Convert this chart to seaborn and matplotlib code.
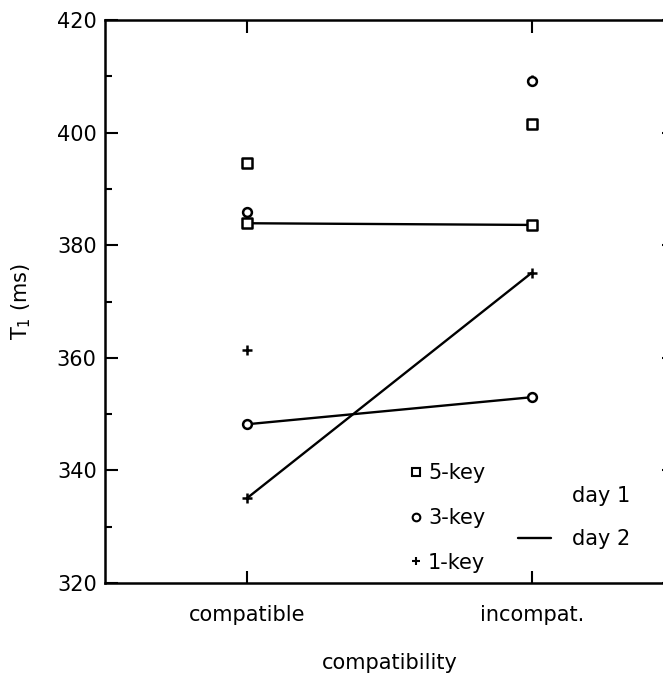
import matplotlib
matplotlib.use("Agg")
import matplotlib.pyplot as plt
from matplotlib.lines import Line2D
from matplotlib.ticker import MultipleLocator
import pandas as pd
import seaborn as sns

# values (ms)
conditions = ["compatible", "incompat."]
day1_5key = [394.6, 401.5]
day1_3key = [385.9, 409.2]
day1_1key = [361.4, 409.4]
day2_5key = [383.9, 383.6]
day2_3key = [348.2, 353.0]
day2_1key = [335.1, 375.1]

rows = []
for day, series in [("day 1", [("5-key", day1_5key), ("3-key", day1_3key), ("1-key", day1_1key)]),
                    ("day 2", [("5-key", day2_5key), ("3-key", day2_3key), ("1-key", day2_1key)])]:
    for keys, vals in series:
        for c, v in zip(conditions, vals):
            rows.append({"compat": c, "T1": v, "keys": keys, "day": day})
df = pd.DataFrame(rows)

sns.set_style("ticks")
plt.rcParams["font.family"] = ["DejaVu Sans"]
plt.rcParams["text.color"] = "black"
plt.rcParams["axes.labelcolor"] = "black"
plt.rcParams["xtick.color"] = "black"
plt.rcParams["ytick.color"] = "black"
plt.rcParams["axes.edgecolor"] = "black"

fig = plt.figure(figsize=(6.63, 6.78), dpi=100)
ax = fig.add_axes([105 / 663, 95 / 678, 569 / 663, 563 / 678])

# day 2: connected lines
sns.lineplot(data=df[df["day"] == "day 2"], x="compat", y="T1", units="keys",
             estimator=None, color="black", linewidth=1.7, legend=False, ax=ax,
             zorder=2)

# markers for both days
marker_style = {"5-key": ("s", 50), "3-key": ("o", 40), "1-key": ("+", 45)}
for keys in ["1-key", "5-key", "3-key"]:
    m, s = marker_style[keys]
    sub = df[df["keys"] == keys]
    if m == "+":
        sns.scatterplot(data=sub, x="compat", y="T1", marker=m, s=s, color="black",
                        linewidth=1.8, legend=False, ax=ax, zorder=3)
    else:
        sns.scatterplot(data=sub, x="compat", y="T1", marker=m, s=s, facecolor="white",
                        edgecolor="black", linewidth=1.8, legend=False, ax=ax, zorder=4)

ax.set_xlim(-0.5, 1.5)
ax.set_ylim(320, 420)
ax.yaxis.set_major_locator(MultipleLocator(20))
ax.yaxis.set_minor_locator(MultipleLocator(10))
ax.tick_params(axis="both", which="major", direction="in", length=9, width=1.5,
               labelsize=15, top=True, right=True, pad=6)
ax.tick_params(axis="y", which="minor", direction="in", length=5, width=1.5,
               left=True, right=False)
ax.tick_params(axis="x", pad=16)
for sp in ax.spines.values():
    sp.set_linewidth(1.8)
    sp.set_visible(True)

ax.set_xlabel("compatibility", fontsize=15, labelpad=20)
ax.set_ylabel("T$_1$ (ms)", fontsize=15, labelpad=17)

# legends
key_handles = [Line2D([], [], ls="none", marker="s", ms=6, mfc="white", mec="black", mew=1.5),
               Line2D([], [], ls="none", marker="o", ms=5.5, mfc="white", mec="black", mew=1.5),
               Line2D([], [], ls="none", marker="+", ms=6, color="black", mew=1.5)]
leg1 = ax.legend(key_handles, ["5-key", "3-key", "1-key"], loc="upper left",
                 bbox_to_anchor=(0.535, 0.213), frameon=False, fontsize=15,
                 handlelength=0.6, handletextpad=0.3, labelspacing=1.19,
                 borderpad=0, borderaxespad=0)
ax.add_artist(leg1)
day_handles = [Line2D([], [], ls="none"),
               Line2D([], [], color="black", lw=1.7)]
ax.legend(day_handles, ["day 1", "day 2"], loc="upper left",
          bbox_to_anchor=(0.725, 0.172), frameon=False, fontsize=15,
          handlelength=1.6, handletextpad=1.0, labelspacing=1.09,
          borderpad=0, borderaxespad=0)

fig.savefig("out.png", dpi=100)
